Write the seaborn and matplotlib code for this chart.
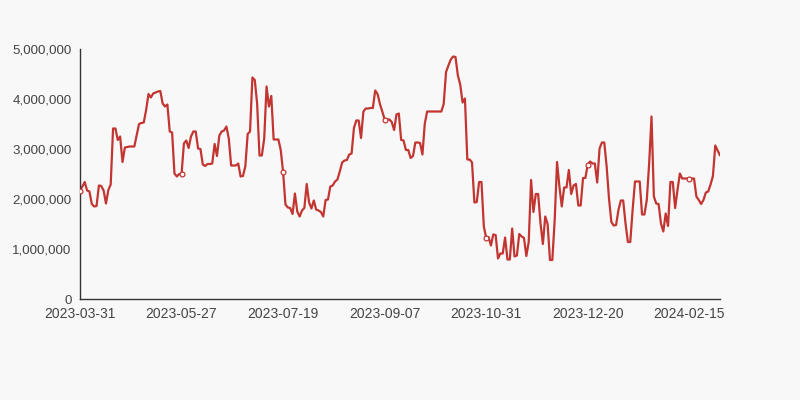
import matplotlib
matplotlib.use("Agg")
import matplotlib.pyplot as plt
import pandas as pd
import seaborn as sns
from matplotlib.ticker import FuncFormatter

# x-axis labels (one every 43 points)
tick_labels = ["2023-03-31", "2023-05-27", "2023-07-19", "2023-09-07",
               "2023-10-31", "2023-12-20", "2024-02-15"]
label_step = 43

# values, in millions
values_m = [
    2.17, 2.25, 2.34, 2.17, 2.15, 1.90, 1.85, 1.86, 2.27, 2.26,
    2.17, 1.91, 2.18, 2.29, 3.41, 3.41, 3.18, 3.25, 2.74, 3.03,
    3.04, 3.05, 3.05, 3.05, 3.28, 3.50, 3.52, 3.53, 3.78, 4.10,
    4.03, 4.11, 4.13, 4.15, 4.16, 3.91, 3.85, 3.89, 3.35, 3.33,
    2.51, 2.45, 2.50, 2.50, 3.11, 3.17, 3.02, 3.25, 3.35, 3.35,
    3.01, 3.00, 2.69, 2.66, 2.70, 2.70, 2.71, 3.10, 2.86, 3.27,
    3.35, 3.37, 3.45, 3.21, 2.67, 2.67, 2.67, 2.71, 2.45, 2.46,
    2.65, 3.30, 3.35, 4.43, 4.38, 3.91, 2.87, 2.87, 3.21, 4.25,
    3.85, 4.06, 3.19, 3.19, 3.19, 2.98, 2.54, 1.89, 1.83, 1.82,
    1.70, 2.11, 1.75, 1.65, 1.77, 1.82, 2.30, 1.93, 1.81, 1.97,
    1.79, 1.77, 1.74, 1.65, 1.98, 1.99, 2.25, 2.27, 2.35, 2.39,
    2.55, 2.73, 2.77, 2.78, 2.89, 2.91, 3.42, 3.57, 3.57, 3.22,
    3.75, 3.81, 3.81, 3.82, 3.82, 4.17, 4.10, 3.90, 3.75, 3.59,
    3.59, 3.59, 3.54, 3.38, 3.69, 3.71, 3.18, 3.17, 2.98, 2.98,
    2.82, 2.86, 3.13, 3.13, 3.12, 2.89, 3.51, 3.75, 3.75, 3.75,
    3.75, 3.75, 3.75, 3.75, 3.90, 4.54, 4.67, 4.79, 4.85, 4.84,
    4.47, 4.29, 3.93, 4.01, 2.79, 2.79, 2.73, 1.93, 1.94, 2.34,
    2.34, 1.45, 1.22, 1.24, 1.07, 1.29, 1.28, 0.81, 0.91, 0.91,
    1.23, 0.79, 0.79, 1.41, 0.85, 0.87, 1.30, 1.25, 1.22, 0.86,
    1.14, 2.38, 1.74, 2.10, 2.10, 1.51, 1.10, 1.65, 1.50, 0.78,
    0.78, 1.58, 2.74, 2.25, 1.85, 2.23, 2.23, 2.58, 2.10, 2.27,
    2.30, 1.87, 1.87, 2.42, 2.42, 2.69, 2.75, 2.71, 2.71, 2.33,
    3.01, 3.13, 3.13, 2.65, 2.01, 1.54, 1.47, 1.48, 1.78, 1.97,
    1.97, 1.51, 1.14, 1.14, 1.78, 2.35, 2.35, 2.35, 1.69, 1.69,
    1.98, 2.71, 3.65, 2.05, 1.91, 1.90, 1.51, 1.35, 1.71, 1.46,
    2.34, 2.34, 1.82, 2.18, 2.51, 2.41, 2.41, 2.41, 2.41, 2.41,
    2.41, 2.05, 1.98, 1.90, 1.98, 2.13, 2.15, 2.29, 2.46, 3.07,
    2.97, 2.87,
]

df = pd.DataFrame({"idx": range(len(values_m)),
                   "value": [v * 1_000_000 for v in values_m]})

bg = "#f8f8f8"
red = "#c23531"
axis_col = "#333333"

sns.set_style("white")
plt.rcParams["font.family"] = ["Liberation Sans", "DejaVu Sans"]

fig = plt.figure(figsize=(8, 4), dpi=100, facecolor=bg)
ax = fig.add_axes([0.1, 0.2525, 0.8, 0.625])
ax.set_facecolor(bg)

sns.lineplot(data=df, x="idx", y="value", color=red, linewidth=1.6, ax=ax)

# hollow symbols at the labelled points
marks = df.iloc[::label_step]
sns.scatterplot(data=marks, x="idx", y="value", s=12, color="white",
                edgecolor=red, linewidth=0.9, zorder=3, ax=ax)

ax.set_xlim(0, len(df) - 1)
ax.set_ylim(0, 5_000_000)
ax.set_yticks(range(0, 5_000_001, 1_000_000))
ax.yaxis.set_major_formatter(FuncFormatter(lambda v, p: f"{int(v):,}"))

xt = list(range(0, len(df), label_step))
ax.set_xticks(xt + [len(df) - 1])
ax.set_xticklabels(tick_labels + [""])

ax.set_xlabel("")
ax.set_ylabel("")
for side in ["top", "right"]:
    ax.spines[side].set_visible(False)
for side in ["left", "bottom"]:
    ax.spines[side].set_color(axis_col)
    ax.spines[side].set_linewidth(1)

ax.tick_params(axis="both", length=4, width=1, color=axis_col,
               labelcolor="#444444", labelsize=9.6, pad=2, direction="out")
ax.tick_params(axis="x", labelsize=10)
ax.grid(False)

fig.savefig("out.png", dpi=100, facecolor=bg)
